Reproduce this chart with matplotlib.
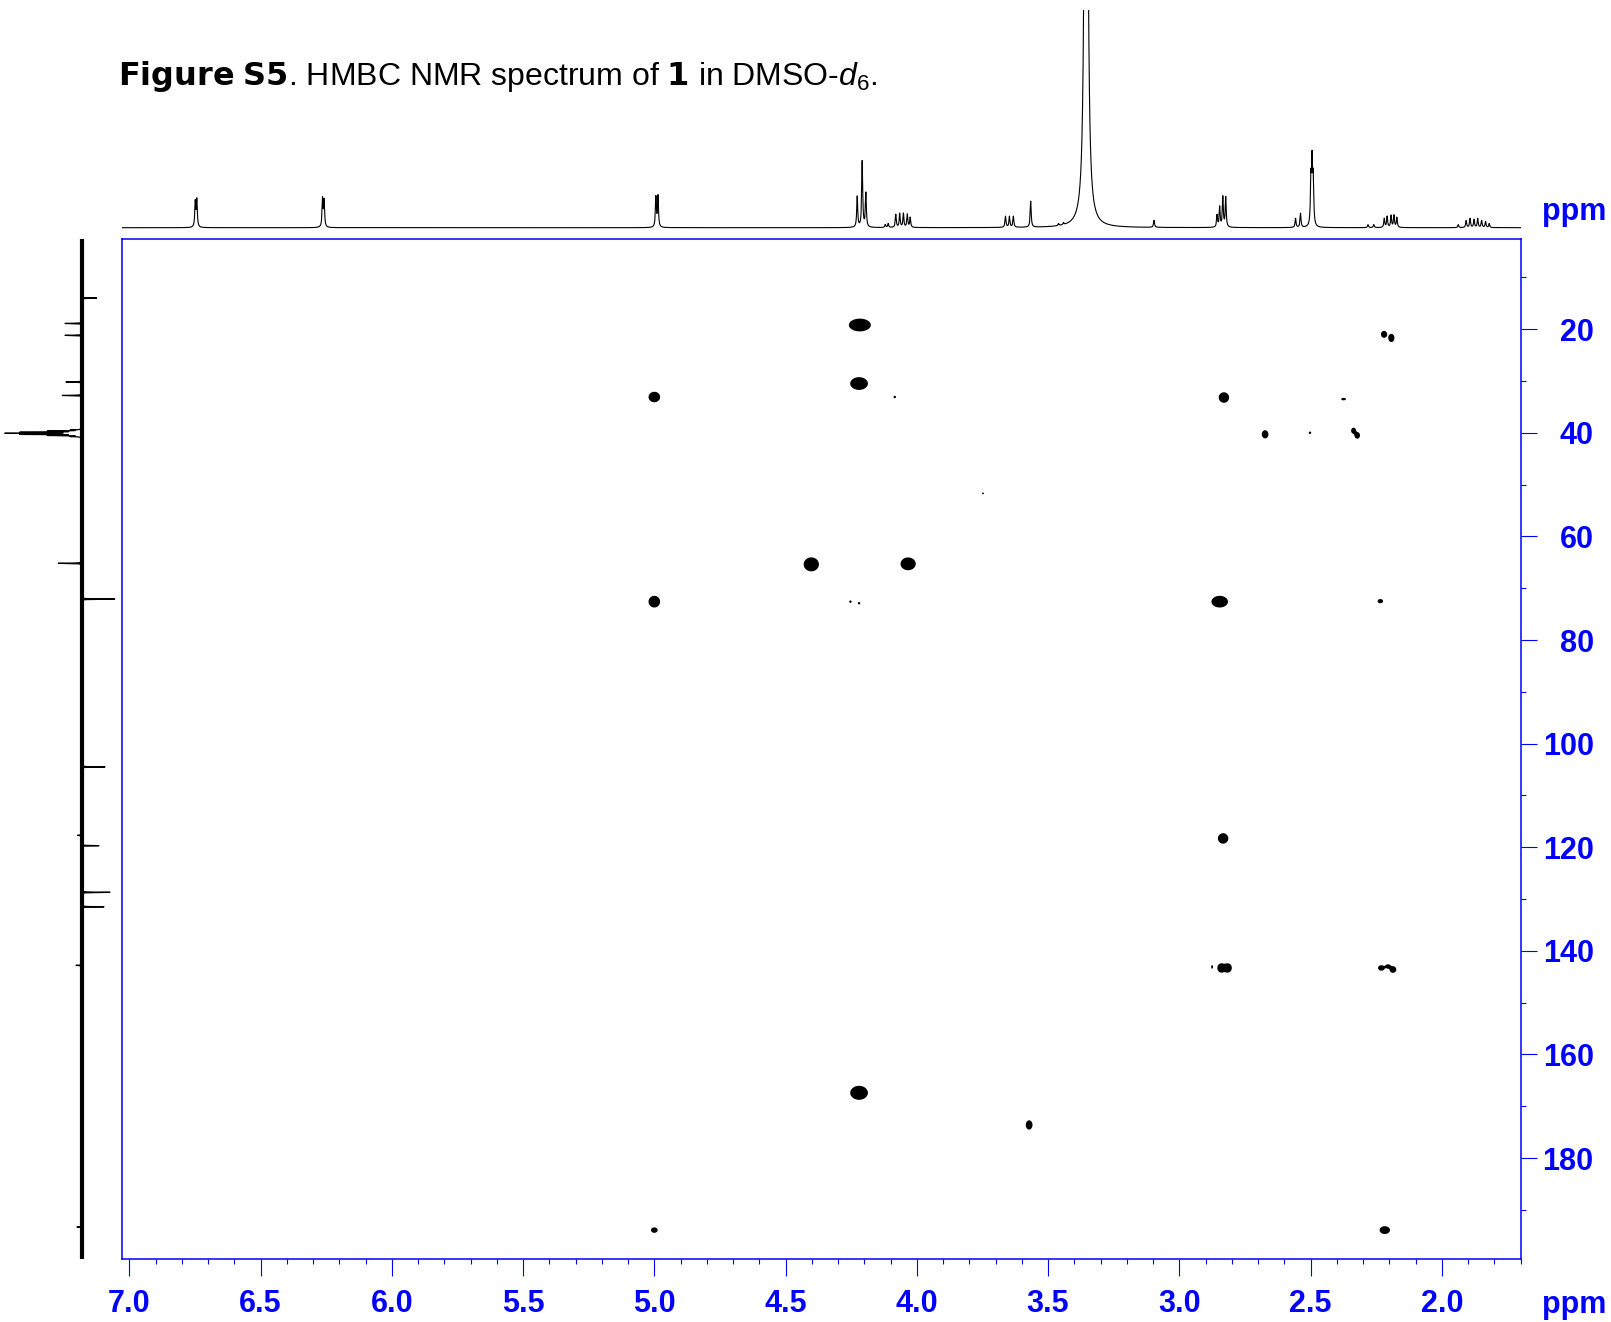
"""HMBC NMR spectrum of 1 in DMSO-d6 (Figure S5).

2D contour map with the 1H trace on top and the 13C trace on the left.
Peak lists read off the published figure.
"""

import numpy as np
import matplotlib
matplotlib.use("Agg")
import matplotlib.pyplot as plt
from matplotlib.ticker import MultipleLocator, FormatStrFormatter

# --------------------------------------------------------------------------- #
#  Config
# --------------------------------------------------------------------------- #
plt.rcParams.update(
    {
        "font.family": ["Liberation Sans", "DejaVu Sans"],
        "mathtext.fontset": "custom",
        "mathtext.rm": "Liberation Sans",
        "mathtext.it": "Liberation Sans:italic",
        "mathtext.bf": "DejaVu Sans:bold",
    }
)

BLUE = "#0000FF"
FIG_W, FIG_H = 1611, 1322      # pixels at dpi 100

X_LIM = (7.03, 1.70)           # 1H, ppm
Y_LIM = (199.4, 2.6)           # 13C, ppm
CONTOUR_LEVEL = np.exp(-1.35)  # outline of the filled contours

# --------------------------------------------------------------------------- #
#  Data
# --------------------------------------------------------------------------- #
# HMBC cross peaks: 1H shift, 13C shift, half size of the blob (ppm)
HMBC_H = [4.217, 4.220, 5.000, 4.084, 2.830, 2.374, 2.673, 2.502, 2.336, 2.322,
          2.220, 2.192, 3.748, 4.402, 4.033, 5.000, 4.253, 4.220, 2.846, 2.234,
          2.833, 2.875, 2.840, 2.815, 2.230, 2.205, 2.186, 4.220, 3.572, 5.000,
          2.217]
HMBC_C = [19.2, 30.5, 33.1, 33.1, 33.2, 33.5, 40.3, 40.0, 39.6, 40.5,
          21.0, 21.7, 51.7, 65.4, 65.3, 72.6, 72.6, 72.9, 72.6, 72.5,
          118.3, 143.1, 143.3, 143.3, 143.3, 143.0, 143.6, 167.4, 173.6, 193.9,
          193.9]
HMBC_WH = [0.036, 0.029, 0.019, 0.004, 0.017, 0.008, 0.011, 0.004, 0.008, 0.009,
           0.010, 0.010, 0.003, 0.025, 0.025, 0.019, 0.004, 0.004, 0.027, 0.009,
           0.017, 0.003, 0.013, 0.013, 0.011, 0.009, 0.011, 0.029, 0.011, 0.011,
           0.017]
HMBC_WC = [1.06, 1.06, 0.87, 0.20, 0.87, 0.20, 0.68, 0.20, 0.50, 0.55,
           0.58, 0.68, 0.15, 1.16, 1.06, 0.97, 0.20, 0.20, 0.97, 0.35,
           0.87, 0.30, 0.77, 0.77, 0.45, 0.35, 0.55, 1.16, 0.77, 0.45,
           0.65]

# 1H trace (top): line positions and heights
H1_PPM = [6.749, 6.743, 6.264, 6.258, 4.994, 4.986, 4.227, 4.208, 4.194,
          4.120, 4.109, 4.080, 4.065, 4.051, 4.036, 4.025,
          3.662, 3.647, 3.632, 3.566, 3.460, 3.441, 3.096,
          2.856, 2.846, 2.834, 2.823, 2.557, 2.538, 2.4985, 2.494, 2.4895,
          2.281, 2.259, 2.219, 2.208, 2.193, 2.182, 2.171,
          1.937, 1.907, 1.892, 1.877, 1.863, 1.848, 1.833, 1.819]
H1_HEIGHT = [25, 27, 28, 26, 30, 31, 31, 66, 34,
             3, 4, 13, 14, 14, 13, 10,
             11, 11, 11, 26, 2, 2, 7,
             12, 20, 30, 30, 9, 14, 45, 60, 45,
             3, 3, 9, 11, 12, 12, 10,
             3, 7, 9, 8, 9, 7, 6, 4]
H1_HWHM = 0.0022
WATER_PPM, WATER_HEIGHT, WATER_HWHM = 3.355, 1500, 0.004

# 13C trace (left): positive points away from the map
C13_PPM = [14.0, 18.9, 21.2, 30.2, 32.8,
           39.47, 39.68, 39.89, 40.10, 40.31, 40.52, 40.73,
           65.2, 72.1, 104.5, 117.7, 119.7, 128.7, 131.5, 142.8, 193.3]
C13_HEIGHT = [-15, 16.7, 16.7, 15.7, 19.4,
              10, 31, 61, 72, 61, 31, 10,
              23.4, -33, -23.3, 4, -17.3, -28.3, -22.3, 5.7, 4.7]
C13_HWHM = 0.04


# --------------------------------------------------------------------------- #
#  Helpers
# --------------------------------------------------------------------------- #
def px_rect(left, top, right, bottom):
    return [left / FIG_W, 1 - bottom / FIG_H,
            (right - left) / FIG_W, (bottom - top) / FIG_H]


def lorentz(grid, centers, heights, hwhm):
    out = np.zeros_like(grid)
    for c, h in zip(centers, heights):
        out += h / (1 + ((grid - c) / hwhm) ** 2)
    return out


def cross_peak_field(h_axis, c_axis):
    z = np.zeros((len(c_axis), len(h_axis)))
    for h0, c0, wh, wc in zip(HMBC_H, HMBC_C, HMBC_WH, HMBC_WC):
        i0, i1 = np.searchsorted(c_axis, [c0 - 4 * wc, c0 + 4 * wc])
        j0, j1 = np.searchsorted(h_axis, [h0 - 4 * wh, h0 + 4 * wh])
        gy = np.exp(-((c_axis[i0:i1] - c0) / wc) ** 2)
        gx = np.exp(-((h_axis[j0:j1] - h0) / wh) ** 2)
        z[i0:i1, j0:j1] += np.outer(gy, gx)
    return z


# --------------------------------------------------------------------------- #
#  Figure
# --------------------------------------------------------------------------- #
def build_figure():
    fig = plt.figure(figsize=(FIG_W / 100, FIG_H / 100), dpi=100)

    # 2D map
    ax = fig.add_axes(px_rect(121.5, 239, 1520.5, 1258.6))
    h_axis = np.arange(X_LIM[1], X_LIM[0], 0.0015)
    c_axis = np.arange(Y_LIM[1], Y_LIM[0], 0.1)
    z = cross_peak_field(h_axis, c_axis)
    ax.contourf(h_axis, c_axis, z, levels=[CONTOUR_LEVEL, z.max() + 1],
                colors="black", antialiased=True)
    ax.set_xlim(*X_LIM)
    ax.set_ylim(*Y_LIM)

    for sp in ax.spines.values():
        sp.set_color(BLUE)
        sp.set_linewidth(1.1)

    ax.xaxis.set_major_locator(MultipleLocator(0.5))
    ax.xaxis.set_minor_locator(MultipleLocator(0.1))
    ax.xaxis.set_major_formatter(FormatStrFormatter("%.1f"))
    ax.yaxis.set_major_locator(MultipleLocator(20))
    ax.yaxis.set_minor_locator(MultipleLocator(10))
    ax.yaxis.set_major_formatter(FormatStrFormatter("%d"))
    ax.yaxis.tick_right()

    ax.tick_params(axis="both", which="both", direction="out",
                   color=BLUE, width=0.8, labelcolor=BLUE,
                   labelsize=22)
    ax.tick_params(axis="x", which="major", length=12, pad=10)
    ax.tick_params(axis="x", which="minor", length=3.6)
    ax.tick_params(axis="y", which="major", length=11.2, pad=41.5)
    ax.tick_params(axis="y", which="minor", length=3.8)
    ax.tick_params(axis="y", left=False, labelleft=False,
                   right=True, labelright=True)
    for lbl in ax.get_xticklabels() + ax.get_yticklabels():
        lbl.set_fontweight("bold")
    for lbl in ax.get_yticklabels():
        lbl.set_horizontalalignment("right")

    # 1H trace on top
    ax_top = fig.add_axes(px_rect(121.5, 10, 1520.5, 234))
    h_grid = np.arange(X_LIM[1], X_LIM[0], 0.0004)
    h_trace = lorentz(h_grid, H1_PPM, H1_HEIGHT, H1_HWHM)
    h_trace += lorentz(h_grid, [WATER_PPM], [WATER_HEIGHT], WATER_HWHM)
    ax_top.plot(h_grid, h_trace, color="black", lw=0.8)
    ax_top.set_xlim(*X_LIM)
    ax_top.set_ylim(-6.3, 217.7)
    ax_top.axis("off")

    # 13C trace on the left
    ax_left = fig.add_axes(px_rect(0, 239, 121, 1258.6))
    c_grid = np.arange(Y_LIM[1], Y_LIM[0], 0.02)
    c_trace = lorentz(c_grid, C13_PPM, C13_HEIGHT, C13_HWHM)
    ax_left.axvline(0, color="black", lw=3.0)
    ax_left.plot(c_trace, c_grid, color="black", lw=0.9)
    ax_left.set_xlim(81.7, 81.7 - 121)
    ax_left.set_ylim(*Y_LIM)
    ax_left.axis("off")

    # axis unit labels
    fig.text(1542 / FIG_W, 1 - 219.6 / FIG_H, "ppm", color=BLUE,
             fontsize=22, fontweight="bold", va="baseline", ha="left")
    fig.text(1542 / FIG_W, 1 - 1313 / FIG_H, "ppm", color=BLUE,
             fontsize=22, fontweight="bold", va="baseline", ha="left")

    # caption
    fig.text(118 / FIG_W, 1 - 85 / FIG_H,
             r"$\mathbf{Figure\ S5}$. HMBC NMR spectrum of $\mathbf{1}$ "
             r"in DMSO-$\mathit{d}_{6}$.",
             fontsize=23, va="baseline", ha="left", color="black")

    return fig


def main():
    fig = build_figure()
    fig.savefig("out.png", dpi=100)
    plt.close(fig)


if __name__ == "__main__":
    main()
